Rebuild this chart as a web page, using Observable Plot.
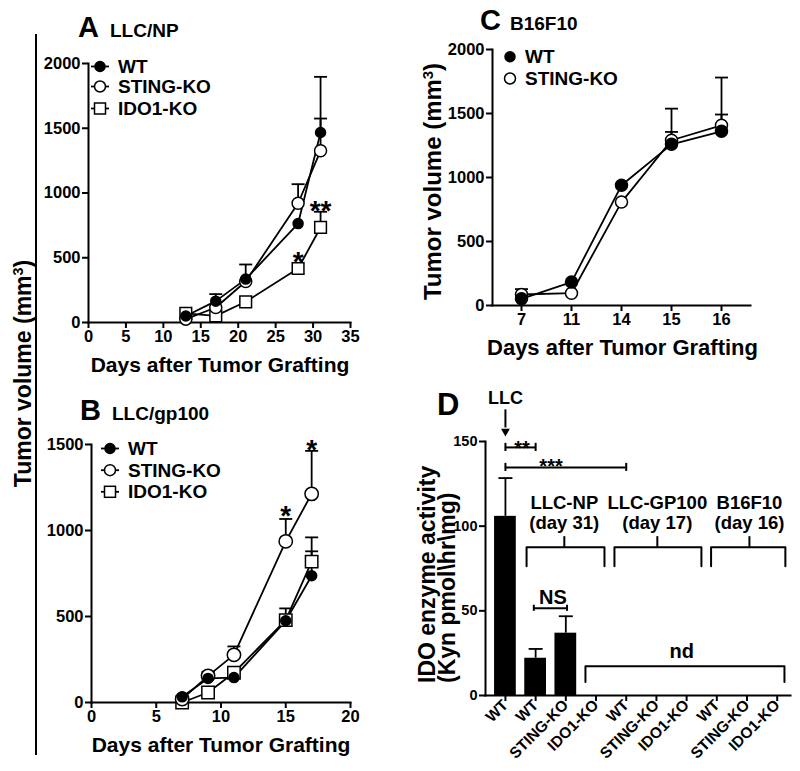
<!DOCTYPE html>
<html><head><meta charset="utf-8">
<script src="https://cdn.jsdelivr.net/npm/d3@7"></script>
<script src="https://cdn.jsdelivr.net/npm/@observablehq/plot@0.6"></script>
<style>
body{margin:0;background:#fff;}
#wrap{position:relative;width:800px;height:771px;overflow:hidden;background:#fff;}
.panel{position:absolute;}
#wrap svg text{font-weight:bold !important;font-family:"Liberation Sans",Arial,Helvetica,sans-serif !important;}
#overlay{position:absolute;left:0;top:0;pointer-events:none;}
</style></head><body><div id="wrap"></div>
<script>
// ---------- DATA ----------
// Panel A : LLC/NP
const daysA = [13, 17, 21, 28, 31];
const wtA = [50, 165, 335, 764, 1467];
const wtAErr = [null, 219, null, null, 1575];
const stingA = [26, 116, 317, 921, 1326];
const stingAErr = [null, null, 448, 1068, 1897];
const idoA = [70, 51, 160, 417, 734];
const idoAErr = [null, null, null, null, 855];
const starDaysA = [28, 31];
const starValuesA = [400, 788];
const starLabelsA = ["*", "**"];

// Panel B : LLC/gp100
const daysB = [7, 9, 11, 15, 17];
const wtB = [33, 140, 145, 475, 737];
const wtBErr = [null, 178, null, null, 879];
const stingB = [20, 155, 277, 937, 1213];
const stingBErr = [null, null, 326, 1067, 1463];
const idoB = [0, 58, 173, 479, 819];
const idoBErr = [null, null, 204, 547, 960];
const starDaysB = [15, 17];
const starValuesB = [1034, 1413];
const starLabelsB = ["*", "*"];

// Panel C : B16F10
const daysC = ["7", "11", "14", "15", "16"];
const wtC = [52, 183, 939, 1259, 1361];
const wtCErr = [null, null, null, 1356, 1492];
const stingC = [86, 96, 808, 1291, 1408];
const stingCErr = [128, null, null, 1538, 1781];

// Panel D : IDO enzyme activity
const barLabelsD = ["WT", "WT", "STING-KO", "IDO1-KO", "WT", "STING-KO", "IDO1-KO", "WT", "STING-KO", "IDO1-KO"];
const barValuesD = [105.8, 22, 36.8, 0, 0, 0, 0, 0, 0, 0];
const barErrD = [128.4, 27.5, 46.8, null, null, null, null, null, null, null];
const groupNamesD = ["LLC-NP", "LLC-GP100", "B16F10"];
const groupDaysD = ["(day 31)", "(day 17)", "(day 16)"];
const groupCentersD = [1.95, 5.03, 8.08];
const groupStartD = [0.7, 3.61, 6.81];
const groupEndD = [3.28, 6.49, 9.27];

// ---------- HELPERS ----------
const FONT = '"Liberation Sans", Arial, Helvetica, sans-serif';
const capSymbol = {draw(ctx, size) { const h = Math.sqrt(size / Math.PI); ctx.moveTo(-h, 0); ctx.lineTo(h, 0); }};
const wrap = d3.select("#wrap");
const plotStyle = {background: "transparent", fontFamily: FONT, fontWeight: "bold", overflow: "visible"};

function rowsOf(days, list) {
  return list.flatMap(s => days.map((d, i) => ({day: d, value: s.values[i], err: s.errors[i], series: s.name})));
}
function axisOpts(extra) {
  return {tickSize: 6, tickPadding: 2, strokeWidth: 2, fontSize: 16.5, fontWeight: "bold", label: null, tickFormat: d => String(d), ...extra};
}
function place(node, left, top) {
  wrap.append(() => node).attr("class", "panel").style("left", left + "px").style("top", top + "px");
}

function growthPlot({rows, styles, stars, x, y, size, margin, starSize, xTicks, yTicks}) {
  const errRows = rows.filter(d => d.err != null);
  return Plot.plot({
    width: size[0], height: size[1],
    marginLeft: margin[0], marginRight: margin[1], marginTop: margin[2], marginBottom: margin[3],
    style: plotStyle,
    x, y,
    marks: [
      Plot.frame({anchor: "left", strokeWidth: 2}),
      Plot.frame({anchor: "bottom", strokeWidth: 2}),
      Plot.axisX(axisOpts({ticks: xTicks})),
      Plot.axisY(axisOpts({ticks: yTicks})),
      Plot.line(rows, {x: "day", y: "value", z: "series", stroke: "black", strokeWidth: 1.8}),
      Plot.ruleX(errRows, {x: "day", y1: "value", y2: "err", stroke: "black", strokeWidth: 1.8}),
      Plot.dot(errRows, {x: "day", y: "err", symbol: capSymbol, r: 6.5, stroke: "black", strokeWidth: 1.8}),
      ...styles.map(st => Plot.dot(rows.filter(d => d.series === st.name),
        {x: "day", y: "value", symbol: st.symbol, r: st.r, fill: st.fill, stroke: "black", strokeWidth: 1.5})),
      Plot.text(stars, {x: "day", y: "value", text: "label", fontSize: starSize, fontWeight: "bold", lineAnchor: "bottom", fontFamily: FONT})
    ]
  });
}
const zipStars = (d, v, l) => d.map((x, i) => ({day: x, value: v[i], label: l[i]}));

// ---------- PANEL A ----------
const rowsA = rowsOf(daysA, [
  {name: "WT", values: wtA, errors: wtAErr},
  {name: "STING-KO", values: stingA, errors: stingAErr},
  {name: "IDO1-KO", values: idoA, errors: idoAErr}
]);
place(growthPlot({
  rows: rowsA,
  styles: [
    {name: "IDO1-KO", symbol: "square", r: 6.6, fill: "white"},
    {name: "STING-KO", symbol: "circle", r: 6, fill: "white"},
    {name: "WT", symbol: "circle", r: 5, fill: "black"}
  ],
  stars: zipStars(starDaysA, starValuesA, starLabelsA),
  x: {domain: [0, 35]}, y: {domain: [0, 2000]},
  xTicks: [0, 5, 10, 15, 20, 25, 30, 35], yTicks: [0, 500, 1000, 1500, 2000],
  size: [400, 380], margin: [88, 50, 63, 58], starSize: 28
}), 0, 0);

// ---------- PANEL B ----------
const rowsB = rowsOf(daysB, [
  {name: "WT", values: wtB, errors: wtBErr},
  {name: "STING-KO", values: stingB, errors: stingBErr},
  {name: "IDO1-KO", values: idoB, errors: idoBErr}
]);
place(growthPlot({
  rows: rowsB,
  styles: [
    {name: "IDO1-KO", symbol: "square", r: 7, fill: "white"},
    {name: "STING-KO", symbol: "circle", r: 6.7, fill: "white"},
    {name: "WT", symbol: "circle", r: 5, fill: "black"}
  ],
  stars: zipStars(starDaysB, starValuesB, starLabelsB),
  x: {domain: [0, 20]}, y: {domain: [0, 1500]},
  xTicks: [0, 5, 10, 15, 20], yTicks: [0, 500, 1000, 1500],
  size: [400, 391], margin: [91, 50, 64, 69], starSize: 28
}), 0, 380);

// ---------- PANEL C ----------
const rowsC = rowsOf(daysC, [
  {name: "WT", values: wtC, errors: wtCErr},
  {name: "STING-KO", values: stingC, errors: stingCErr}
]);
place(growthPlot({
  rows: rowsC,
  styles: [
    {name: "STING-KO", symbol: "circle", r: 6, fill: "white"},
    {name: "WT", symbol: "circle", r: 6, fill: "black"}
  ],
  stars: [],
  x: {type: "point", domain: daysC, padding: 0.55}, y: {domain: [0, 2000]},
  xTicks: daysC, yTicks: [0, 500, 1000, 1500, 2000],
  size: [400, 380], margin: [92, 50, 49, 75], starSize: 28
}), 400, 0);

// ---------- PANEL D ----------
const barsD = barLabelsD.map((l, i) => ({i, label: l, value: barValuesD[i], err: barErrD[i]}));
const errD = barsD.filter(d => d.err != null);
const bracketLines = [];
groupNamesD.forEach((g, k) => {
  bracketLines.push({k: "g" + k, x: groupStartD[k], y: 76.3}, {k: "g" + k, x: groupStartD[k], y: 87.5},
                    {k: "g" + k, x: groupEndD[k], y: 87.5}, {k: "g" + k, x: groupEndD[k], y: 76.3});
});
bracketLines.push({k: "nd", x: 2.65, y: 7.9}, {k: "nd", x: 2.65, y: 17.3}, {k: "nd", x: 9.24, y: 17.3}, {k: "nd", x: 9.24, y: 7.9});
const stems = groupCentersD.map((c, k) => ({x: c, y1: 87.5, y2: 93.8}));
const sigBars = [
  {x1: 0, x2: 1, y: 146.5, h: 2.4, label: "**", lx: 0.55, ly: 141.9},
  {x1: 0, x2: 4, y: 134.7, h: 2.4, label: "***", lx: 1.51, ly: 131.3},
  {x1: 0.94, x2: 2.04, y: 51.5, h: 1.8, label: "NS", lx: 1.57, ly: 54.1}
];
const sigCaps = sigBars.flatMap(s => [{x: s.x1, y1: s.y - s.h, y2: s.y + s.h}, {x: s.x2, y1: s.y - s.h, y2: s.y + s.h}]);
const groupText = groupNamesD.flatMap((g, k) => [{x: groupCentersD[k], y: 110.1, t: g}, {x: groupCentersD[k], y: 98.5, t: groupDaysD[k]}]);

place(Plot.plot({
  width: 400, height: 391, marginLeft: 85, marginRight: 10, marginTop: 61, marginBottom: 76,
  style: plotStyle,
  x: {domain: [-0.66, 9.44]}, y: {domain: [0, 150]},
  marks: [
    Plot.frame({anchor: "left", strokeWidth: 2}),
    Plot.frame({anchor: "bottom", strokeWidth: 2}),
    Plot.axisY(axisOpts({ticks: [0, 50, 100, 150], fontSize: 14.5})),
    Plot.axisX(axisOpts({ticks: d3.range(barLabelsD.length), tickFormat: i => barLabelsD[i], tickRotate: -45, fontSize: 15.5, tickPadding: 1})),
    Plot.rectY(barsD, {x1: d => d.i - 0.36, x2: d => d.i + 0.36, y: "value", fill: "black"}),
    Plot.ruleX(errD, {x: "i", y1: "value", y2: "err", strokeWidth: 1.8}),
    Plot.dot(errD, {x: "i", y: "err", symbol: capSymbol, r: 7, stroke: "black", strokeWidth: 1.8}),
    Plot.line(bracketLines, {x: "x", y: "y", z: "k", stroke: "black", strokeWidth: 2}),
    Plot.ruleX(stems, {x: "x", y1: "y1", y2: "y2", strokeWidth: 2}),
    Plot.ruleY(sigBars, {x1: "x1", x2: "x2", y: "y", strokeWidth: 2}),
    Plot.ruleX(sigCaps, {x: "x", y1: "y1", y2: "y2", strokeWidth: 2}),
    Plot.text(sigBars, {x: "lx", y: "ly", text: "label", fontSize: 20, fontWeight: "bold", lineAnchor: "bottom"}),
    Plot.text(groupText, {x: "x", y: "y", text: "t", fontSize: 18.5, fontWeight: "bold", lineAnchor: "bottom"}),
    Plot.text(["nd"], {x: 5.84, y: 22.2, text: d => d, fontSize: 20, fontWeight: "bold", lineAnchor: "bottom"}),
    Plot.ruleX([0], {y1: 168.7, y2: 158, strokeWidth: 2}),
    Plot.dot([0], {x: d => d, y: 156, symbol: "triangle2", rotate: 180, r: 4.2, fill: "black"}),
    Plot.text(["LLC"], {x: 0, y: 172.3, text: d => d, fontSize: 18, fontWeight: "bold", lineAnchor: "bottom"})
  ]
}), 400, 380);

// ---------- OVERLAY: headers, titles, legends ----------
const ov = wrap.append("svg").attr("id", "overlay").attr("width", 800).attr("height", 771)
  .style("font-family", FONT).style("font-weight", "bold");
function txt(x, y, s, size, anchor = "start", rot = 0) {
  return ov.append("text").attr("transform", `translate(${x},${y}) rotate(${rot})`)
    .attr("text-anchor", anchor).attr("font-size", size).text(s);
}
function volTitle(x, y, size) {
  const t = ov.append("text").attr("transform", `translate(${x},${y}) rotate(-90)`)
    .attr("text-anchor", "middle").attr("font-size", size);
  t.append("tspan").text("Tumor volume (mm");
  t.append("tspan").attr("dy", "-0.55em").attr("font-size", size * 0.62).text("3");
  t.append("tspan").attr("dy", "0.35em").text(")");
}
// headers
txt(78, 37, "A", 29); txt(110, 37, "LLC/NP", 19);
txt(80, 420, "B", 29); txt(112, 420, "LLC/gp100", 19);
txt(480, 30, "C", 29); txt(510, 30, "B16F10", 19);
txt(437, 415, "D", 31);
// axis titles
txt(220, 372, "Days after Tumor Grafting", 21, "middle");
txt(221, 751.5, "Days after Tumor Grafting", 21, "middle");
txt(622.5, 355, "Days after Tumor Grafting", 22, "middle");
volTitle(31, 373.5, 23);
volTitle(441, 181.5, 24);
txt(434.5, 683, "IDO enzyme activity", 23, "start", -90);
txt(454.5, 683, "(Kyn pmol\\hr\\mg)", 23, "start", -90);
// left shared line
ov.append("line").attr("x1", 36).attr("x2", 36).attr("y1", 34).attr("y2", 755).attr("stroke", "black").attr("stroke-width", 2);
// legends
function legend(mx, tx, ys, names, kinds, withLine) {
  names.forEach((n, i) => {
    const cy = ys[i] - 6.5;
    if (withLine) ov.append("line").attr("x1", mx - 9).attr("x2", mx + 9).attr("y1", cy).attr("y2", cy).attr("stroke", "black").attr("stroke-width", 1.8);
    const k = kinds[i];
    if (k === "square") ov.append("rect").attr("x", mx - 5.5).attr("y", cy - 5.5).attr("width", 11).attr("height", 11).attr("fill", "white").attr("stroke", "black").attr("stroke-width", 1.5);
    else ov.append("circle").attr("cx", mx).attr("cy", cy).attr("r", k === "filled" ? 5 : 5.5).attr("fill", k === "filled" ? "black" : "white").attr("stroke", "black").attr("stroke-width", 1.5);
    txt(tx, ys[i], n, 19);
  });
}
legend(100, 118, [73, 93, 115], ["WT", "STING-KO", "IDO1-KO"], ["filled", "open", "square"], true);
legend(110, 128, [455, 476.7, 498.3], ["WT", "STING-KO", "IDO1-KO"], ["filled", "open", "square"], true);
legend(510, 525, [63.3, 85], ["WT", "STING-KO"], ["filled", "open"], false);
</script></body></html>
